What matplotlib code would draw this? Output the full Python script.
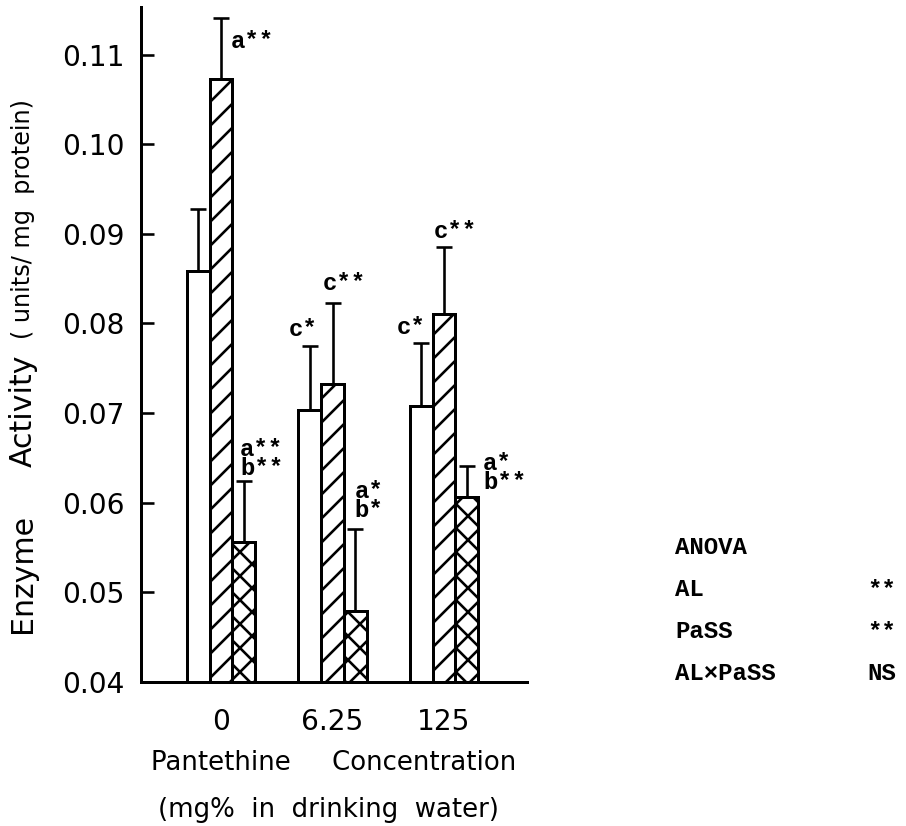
import matplotlib
matplotlib.use("Agg")
import matplotlib.pyplot as plt
import numpy as np

# values
groups = ["0", "6.25", "125"]
series_hatch = ["", "//", "xx"]
means_white = [0.0859, 0.0703, 0.0708]
means_hatched = [0.1073, 0.0732, 0.0811]
means_cross = [0.0556, 0.0479, 0.0606]
sem_white = [0.0069, 0.0072, 0.0070]
sem_hatched = [0.0068, 0.0091, 0.0074]
sem_cross = [0.0068, 0.0092, 0.0035]

# significance marks per bar (group, series)
marks_white = ["", "c*", "c*"]
marks_hatched = ["a**", "c**", "c**"]
marks_cross = ["a**\nb**", "a*\nb*", "a*\nb**"]

anova_terms = ["AL", "PaSS", "AL\u00d7PaSS"]
anova_sig = ["**", "**", "NS"]

W, H, DPI = 906, 826, 144
plt.rcParams["hatch.linewidth"] = 1.3
plt.rcParams["font.family"] = ["DejaVu Sans"]

fig = plt.figure(figsize=(W / DPI, H / DPI), dpi=DPI)


def fx(px):
    return px / W


def fy(py):
    return 1 - py / H


ax = fig.add_axes([fx(141), fy(682), fx(527) - fx(141), fy(7) - fy(682)])

x = np.arange(len(groups))
bw = 0.205
mono = dict(family=["Liberation Mono", "DejaVu Sans Mono"], fontweight="bold", fontsize=12)

# annotation offsets (dx, dy in data units) relative to error bar top
offs = {
    0: [(0, 0), (-0.06, 0.0018), (-0.09, 0.0017)],
    1: [(0.28, -0.0027), (0.11, 0.0021), (0.10, 0.0017)],
    2: [(0.16, 0.0025), (0.12, 0.0031), (0.34, -0.0008)],
}

series = [
    (means_white, sem_white, marks_white, -bw),
    (means_hatched, sem_hatched, marks_hatched, 0.0),
    (means_cross, sem_cross, marks_cross, bw),
]

for k, (m, e, lab, dx) in enumerate(series):
    xs = x + dx
    ax.bar(xs, np.array(m) - 0.04, bottom=0.04, width=bw, color="white",
           edgecolor="black", linewidth=1.5, hatch=series_hatch[k], zorder=2)
    ax.errorbar(xs, m, yerr=[np.zeros(3), e], fmt="none", ecolor="black",
                elinewidth=1.3, capsize=4, capthick=1.3, zorder=1)
    for i in range(3):
        if not lab[i]:
            continue
        ox, oy = offs[k][i]
        ax.text(xs[i] + ox, m[i] + e[i] + oy, lab[i], ha="center", va="center",
                multialignment="left", linespacing=0.8, **mono)

ax.set_xlim(-0.7175, 2.744)
ax.set_ylim(0.04, 0.1153)
ax.set_yticks(np.arange(0.04, 0.111, 0.01))
ax.set_yticklabels([f"{v:.2f}" for v in np.arange(0.04, 0.111, 0.01)])
ax.set_xticks(x)
ax.set_xticklabels(groups)
ax.tick_params(axis="y", direction="in", length=6.5, width=1.3, pad=8, labelsize=14)
ax.tick_params(axis="x", length=0, pad=13, labelsize=14)
for s in ["top", "right"]:
    ax.spines[s].set_visible(False)
for s in ["left", "bottom"]:
    ax.spines[s].set_linewidth(1.5)

# axis titles
fig.text(fx(334), fy(763), "Pantethine     Concentration", ha="center", va="center", fontsize=13)
fig.text(fx(329), fy(810), "(mg%  in  drinking  water)", ha="center", va="center", fontsize=13)
fig.text(fx(23), fy(573), "Enzyme", rotation=90, ha="center", va="center", fontsize=15)
fig.text(fx(23), fy(411), "Activity", rotation=90, ha="center", va="center", fontsize=15)
fig.text(fx(23), fy(219), "( units/ mg  protein)", rotation=90, ha="center", va="center", fontsize=12)

# ANOVA table
fig.text(fx(675), fy(547), "ANOVA", ha="left", va="center", **mono)
for j, (t, s) in enumerate(zip(anova_terms, anova_sig)):
    yy = fy(590 + j * 41.5)
    fig.text(fx(675), yy, t, ha="left", va="center", **mono)
    fig.text(fx(867), yy, s, ha="left", va="center", **mono)

fig.savefig("out.png", dpi=DPI)
